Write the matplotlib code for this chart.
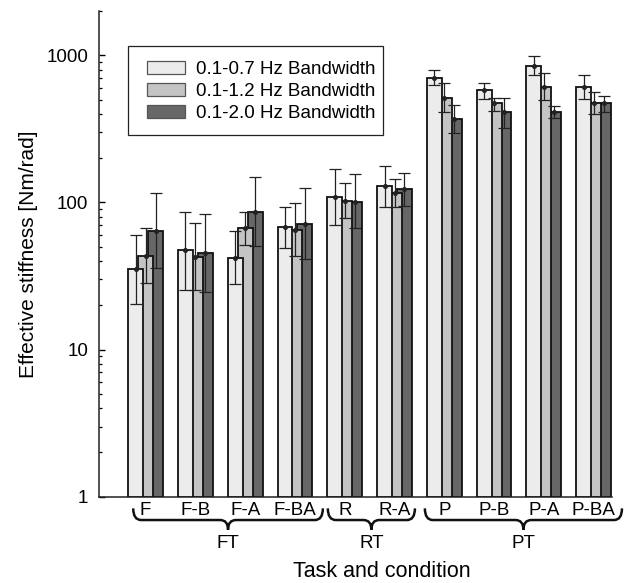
import numpy as np
import matplotlib
matplotlib.use('Agg')
import matplotlib.pyplot as plt
from matplotlib.path import Path
from matplotlib.patches import PathPatch, Rectangle
import matplotlib.transforms as mtransforms
from matplotlib.ticker import LogLocator, FixedFormatter, FixedLocator, NullFormatter

plt.rcParams['font.family'] = ['Liberation Sans', 'DejaVu Sans']

conditions = ['F', 'F-B', 'F-A', 'F-BA', 'R', 'R-A', 'P', 'P-B', 'P-A', 'P-BA']
bandwidths = ['0.1-0.7 Hz Bandwidth', '0.1-1.2 Hz Bandwidth', '0.1-2.0 Hz Bandwidth']

# mean effective stiffness [Nm/rad], one list per bandwidth
stiff_07 = [35.1, 47.4, 42.0, 68.3, 109.1, 129.7, 702, 579, 853, 614]
stiff_12 = [43.2, 42.7, 67.2, 64.8, 102.5, 115.1, 517, 471, 614, 471]
stiff_20 = [64.1, 45.0, 86.3, 71.2, 100.9, 123.7, 372, 412, 412, 471]

# error bar ends (lower, upper)
low_07 = [20.4, 25.6, 27.9, 49.2, 70.2, 93.3, 626, 509, 741, 509]
up_07 = [60.0, 86.3, 63.5, 93.3, 170, 177.3, 792, 649, 997, 741]
low_12 = [28.2, 25.6, 51.8, 43.2, 78.6, 93.3, 412, 419, 495, 398]
up_12 = [67.2, 72.0, 85.5, 98.5, 134.6, 143.3, 653, 514, 764, 564]
low_20 = [36.0, 24.5, 50.5, 41.0, 67.2, 94.3, 297, 323, 378, 412]
up_20 = [116, 82.9, 149, 125.7, 155, 158.8, 463, 517, 456, 530]

tasks = ['FT', 'RT', 'PT']
task_spans = [(-0.25, 3.56), (3.66, 5.41), (5.61, 9.57)]

means = [stiff_07, stiff_12, stiff_20]
lows = [low_07, low_12, low_20]
ups = [up_07, up_12, up_20]
colors = ['#ececec', '#c4c4c4', '#676767']
offsets = [-0.2, 0.0, 0.2]
width = 0.3

fig = plt.figure(figsize=(6.29, 5.83), dpi=100)
ax = fig.add_axes([0.158, 0.148, 0.815, 0.833])
x = np.arange(len(conditions))

# dark drawn first so lighter bars sit on top
for k in [2, 1, 0]:
    m = np.array(means[k])
    ax.bar(x + offsets[k], m - 1, bottom=1, width=width, color=colors[k],
           edgecolor='#111111', linewidth=1.3, zorder=2 + (2 - k), label=bandwidths[k])
for k in range(3):
    m = np.array(means[k])
    err = [m - np.array(lows[k]), np.array(ups[k]) - m]
    ax.errorbar(x + offsets[k], m, yerr=err, fmt='o', color='#222222', ms=2.6,
                elinewidth=0.9, capsize=4.5, capthick=0.9, zorder=6)

ax.set_yscale('log')
ax.set_ylim(1, 2000)
ax.set_xlim(-0.93, 9.37)
ax.yaxis.set_major_locator(FixedLocator([1, 10, 100, 1000]))
ax.yaxis.set_major_formatter(FixedFormatter(['1', '10', '100', '1000']))
ax.yaxis.set_minor_locator(LogLocator(base=10, subs=np.arange(2, 10)))
ax.yaxis.set_minor_formatter(NullFormatter())
ax.tick_params(axis='y', which='major', direction='in', length=4, width=1, labelsize=13.5, pad=8)
ax.tick_params(axis='y', which='minor', direction='in', length=2.5, width=0.9)
ax.set_xticks([])
for s in ['top', 'right']:
    ax.spines[s].set_visible(False)
for s in ['left', 'bottom']:
    ax.spines[s].set_linewidth(1.1)
    ax.spines[s].set_color('#222222')

ax.set_ylabel('Effective stiffness [Nm/rad]', fontsize=15, labelpad=6)

trans = mtransforms.blended_transform_factory(ax.transData, ax.transAxes)
for xi, name in zip(x, conditions):
    ax.text(xi, -0.028, name, transform=trans, ha='center', va='center', fontsize=13.5)

y_top, y_mid, y_tip = -0.024, -0.048, -0.068
r = 0.16
for (x0, x1), name in zip(task_spans, tasks):
    xc = (x0 + x1) / 2
    verts = [(x0, y_top), (x0, y_mid), (x0 + r, y_mid),
             (xc - r, y_mid), (xc, y_mid), (xc, y_tip),
             (xc, y_mid), (xc + r, y_mid),
             (x1 - r, y_mid), (x1, y_mid), (x1, y_top)]
    codes = [Path.MOVETO, Path.CURVE3, Path.CURVE3,
             Path.LINETO, Path.CURVE3, Path.CURVE3,
             Path.CURVE3, Path.CURVE3,
             Path.LINETO, Path.CURVE3, Path.CURVE3]
    ax.add_patch(PathPatch(Path(verts, codes), transform=trans, fill=False,
                           lw=1.8, color='#111111', clip_on=False))
    ax.text(xc, -0.097, name, transform=trans, ha='center', va='center', fontsize=13.5)

ax.text(0.55, -0.153, 'Task and condition', transform=ax.transAxes,
        ha='center', va='center', fontsize=15.5)

# legend box drawn separately so its padding matches the original
ax.add_patch(Rectangle((0.056, 0.745), 0.497, 0.183, transform=ax.transAxes,
                       facecolor='white', edgecolor='#222222', lw=0.9, zorder=7))
handles, labels = ax.get_legend_handles_labels()
leg = ax.legend(handles[::-1], labels[::-1], loc='upper left', bbox_to_anchor=(0.093, 0.898),
                fontsize=13.5, frameon=False, borderpad=0, labelspacing=0.26,
                handlelength=2.0, handleheight=0.72, handletextpad=0.6, borderaxespad=0)
leg.set_zorder(8)
for p in leg.get_patches():
    p.set_edgecolor('#555555')
    p.set_linewidth(0.9)

fig.savefig('out.png', dpi=100)
